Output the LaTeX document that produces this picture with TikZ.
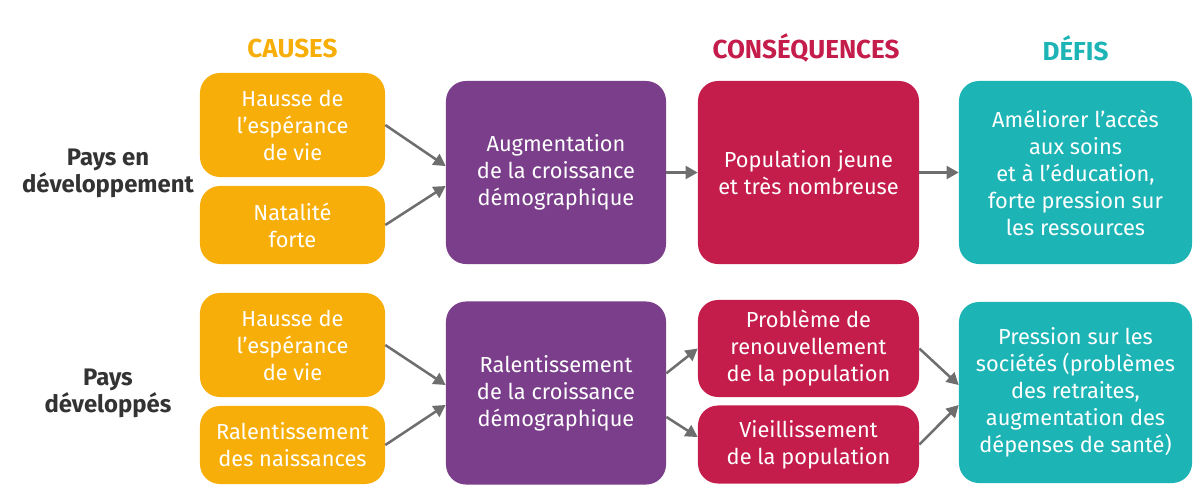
\documentclass[tikz,border=0pt]{standalone}
\usepackage{fontspec}
\setmainfont{Fira Sans}
\usetikzlibrary{arrows.meta}
\definecolor{causeor}{HTML}{F7AE08}
\definecolor{growpu}{HTML}{7A3E8A}
\definecolor{consred}{HTML}{C51D4B}
\definecolor{defteal}{HTML}{1DB4B6}
\definecolor{arrgrey}{HTML}{6E6E6E}
\definecolor{paysgrey}{HTML}{333333}
\begin{document}
\begin{tikzpicture}[x=0.025cm,y=-0.025cm,
    box/.style={rounded corners=0.5cm,inner sep=0pt,align=center,text=white,
        font=\fontsize{15.5}{19.2}\selectfont},
    cause/.style={box,fill=causeor,minimum width=4.625cm},
    growthbox/.style={box,fill=growpu,minimum width=5.5cm,minimum height=4.575cm},
    cons/.style={box,fill=consred,minimum width=5.525cm},
    defi/.style={box,fill=defteal,minimum width=5.825cm},
    hdr/.style={font=\fontsize{18.5}{22}\selectfont\bfseries},
    pays/.style={align=center,text=paysgrey,font=\fontsize{17}{19.2}\selectfont\bfseries},
    arr/.style={draw=arrgrey,line width=1.8pt,-{Triangle[length=3mm,width=3.2mm]}}]
        \useasboundingbox (0,0) rectangle (1200,494);
        % headers
        \node[hdr,text=causeor] (hcause) at (292.5,48) {CAUSES};
        \node[hdr,text=consred] (hcons) at (806,48) {CONSÉQUENCES};
        \node[hdr,text=defteal] (hdefi) at (1075.5,48) {DÉFIS};
        \node[pays] (pdev) at (108,173) {Pays en\\développement};
        \node[pays] (pdvp) at (108,393) {Pays\\développés};
        % pays en developpement
        \node[cause,minimum height=2.6cm] (o1) at (292.5,125) {Hausse de\\l’espérance\\de vie};
        \node[cause,minimum height=1.95cm] (o2) at (292.5,225) {Natalité\\forte};
        \node[growthbox] (p1) at (556,172.5) {Augmentation\\de la croissance\\démographique};
        \node[cons,minimum height=4.575cm] (r1) at (808.5,172.5) {Population jeune\\et très nombreuse};
        \node[defi,minimum height=4.575cm] (t1) at (1075.5,172.5)
            {Améliorer l’accès\\aux soins\\et à l’éducation,\\forte pression sur\\les ressources};
        % pays developpes
        \node[cause,minimum height=2.6cm] (o3) at (292.5,345) {Hausse de\\l’espérance\\de vie};
        \node[cause,minimum height=1.95cm] (o4) at (292.5,445) {Ralentissement\\des naissances};
        \node[growthbox] (p2) at (556,393) {Ralentissement\\de la croissance\\démographique};
        \node[cons,minimum height=2.425cm] (ra) at (808.5,348.5) {Problème de\\renouvellement\\de la population};
        \node[cons,minimum height=1.95cm] (rb) at (808.5,444.5) {Vieillissement\\de la population};
        \node[defi,minimum height=4.525cm] (t2) at (1075.5,392.5)
            {Pression sur les\\sociétés (problèmes\\des retraites,\\augmentation des\\dépenses de santé)};
        % connectors
        \draw[arr] (o1.east) -- ([yshift=4.6pt]p1.west);
        \draw[arr] (o2.east) -- ([yshift=-9.6pt]p1.west);
        \draw[arr] (p1) -- (r1);
        \draw[arr] (r1) -- (t1);
        \draw[arr] (o3.east) -- ([yshift=5.7pt]p2.west);
        \draw[arr] (o4.east) -- ([yshift=-8.5pt]p2.west);
        \draw[arr] ([yshift=14pt]p2.east) -- (ra.west);
        \draw[arr] ([yshift=-17pt]p2.east) -- ([yshift=5.3pt]rb.west);
        \draw[arr] (ra.east) -- ([yshift=5.3pt]t2.west);
        \draw[arr] (rb.east) -- ([yshift=-8.9pt]t2.west);
    \end{tikzpicture}
\end{document}
